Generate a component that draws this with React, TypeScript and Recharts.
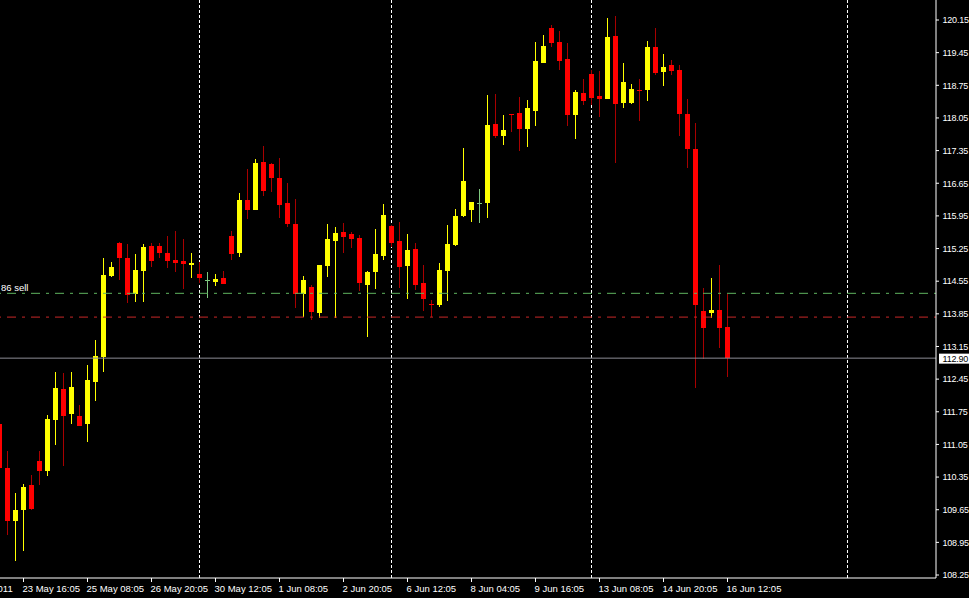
import React from 'react';
import { ComposedChart, Bar, XAxis, YAxis, ReferenceLine, CartesianGrid } from 'recharts';

const START_INDEX = -1;
const OPEN = [111.49, 110.55, 109.41, 109.64, 110.17, 110.69, 110.48, 111.57, 112.24, 111.70, 111.66, 111.49, 112.39, 112.93, 114.66, 115.37, 115.05, 114.27, 114.77, 115.30, 115.30, 115.15, 115.00, 114.98, 114.90, 114.70, 114.57, 114.53, 114.62, 115.52, 115.15, 116.29, 116.08, 117.11, 117.06, 116.76, 116.23, 115.78, 114.28, 114.42, 113.87, 114.88, 115.41, 115.60, 115.56, 115.47, 114.47, 114.75, 115.10, 115.73, 115.41, 114.88, 115.24, 114.51, 114.06, 114.05, 114.77, 115.32, 115.95, 116.08, 116.23, 116.23, 117.92, 117.66, 118.13, 118.16, 117.81, 118.20, 119.23, 119.98, 119.68, 119.31, 118.11, 118.58, 118.99, 118.52, 118.46, 119.81, 118.37, 118.37, 118.64, 118.65, 119.57, 119.04, 119.19, 119.08, 118.13, 117.38, 113.91, 113.87, 113.93, 113.57];
const HIGH = [111.52, 110.91, 110.01, 110.20, 110.39, 110.91, 111.68, 112.60, 112.58, 112.60, 111.90, 112.75, 113.29, 115.05, 114.96, 115.40, 115.35, 115.13, 115.35, 115.37, 115.37, 115.52, 115.63, 115.45, 115.15, 114.96, 114.75, 114.70, 114.77, 115.63, 116.44, 116.96, 117.17, 117.45, 117.08, 117.19, 116.65, 116.31, 114.66, 114.47, 114.90, 115.78, 115.71, 115.80, 115.60, 115.54, 114.77, 115.67, 116.20, 115.76, 115.82, 115.56, 115.37, 114.90, 114.15, 114.94, 115.75, 116.10, 117.41, 116.25, 116.53, 118.54, 118.56, 118.11, 118.14, 118.50, 118.43, 119.68, 119.83, 120.04, 119.91, 119.66, 118.65, 118.88, 119.08, 119.06, 120.19, 120.24, 119.23, 118.78, 118.88, 119.70, 119.98, 119.42, 119.29, 119.19, 118.46, 117.94, 114.40, 114.62, 114.90, 114.27];
const LOW = [110.50, 109.11, 108.54, 108.77, 109.65, 110.18, 110.37, 111.04, 110.59, 111.49, 111.45, 111.11, 111.98, 112.61, 114.65, 114.57, 114.08, 114.11, 114.11, 114.85, 115.05, 114.83, 114.75, 114.38, 114.62, 114.51, 114.20, 114.45, 114.49, 115.00, 115.07, 115.88, 116.08, 116.38, 116.46, 115.90, 115.71, 113.97, 113.79, 113.72, 113.75, 114.65, 113.75, 115.15, 115.26, 114.35, 113.36, 114.39, 115.01, 115.28, 114.41, 114.17, 114.37, 113.92, 113.78, 114.00, 114.13, 115.30, 115.93, 115.82, 115.80, 115.90, 117.62, 117.47, 117.75, 117.34, 117.43, 117.88, 119.23, 119.57, 119.08, 117.88, 117.60, 118.33, 118.33, 118.07, 118.46, 117.08, 118.26, 118.35, 117.98, 118.41, 118.97, 118.74, 118.97, 117.67, 116.98, 112.27, 112.89, 113.77, 113.12, 112.50];
const CLOSE = [110.55, 109.41, 109.64, 110.14, 109.67, 110.48, 111.60, 112.26, 111.66, 112.28, 111.45, 112.43, 112.95, 114.68, 114.85, 115.05, 114.25, 114.79, 115.28, 114.98, 115.15, 114.98, 114.94, 114.92, 114.94, 114.62, 114.57, 114.60, 114.49, 115.13, 116.29, 116.08, 117.08, 116.48, 116.76, 116.18, 115.78, 114.28, 114.57, 113.90, 114.90, 115.45, 115.58, 115.50, 115.45, 114.52, 114.75, 115.13, 115.97, 115.37, 114.86, 115.22, 114.47, 114.17, 114.05, 114.79, 115.35, 115.95, 116.70, 116.25, 116.23, 117.90, 117.66, 117.79, 118.12, 117.81, 118.26, 119.27, 119.59, 119.66, 119.27, 118.11, 118.61, 118.41, 118.48, 118.46, 119.79, 118.35, 118.82, 118.67, 118.63, 119.57, 119.01, 119.14, 119.06, 118.14, 117.39, 114.05, 113.55, 113.93, 113.55, 112.90];

const TIME_TICKS = [-6, 2, 10, 18, 26, 34, 42, 50, 58, 66, 74, 82, 90];
const TIME_LABELS = ['20 May 2011', '23 May 16:05', '25 May 08:05', '26 May 20:05', '30 May 12:05', '1 Jun 08:05', '2 Jun 20:05', '6 Jun 12:05', '8 Jun 04:05', '9 Jun 16:05', '13 Jun 08:05', '14 Jun 20:05', '16 Jun 12:05'];
const PRICE_TICKS = [108.25, 108.95, 109.65, 110.35, 111.05, 111.75, 112.45, 113.15, 113.85, 114.55, 115.25, 115.95, 116.65, 117.35, 118.05, 118.75, 119.45, 120.15];
const GRID_X = [24, 48, 73, 105];
const SELL_LEVEL = 114.29;
const SELL_TEXT = '86 sell';
const STOP_LEVEL = 113.78;
const BID = 112.9;

const data = OPEN.map((o, i) => ({
  idx: START_INDEX + i,
  open: o,
  high: HIGH[i],
  low: LOW[i],
  close: CLOSE[i],
  range: [LOW[i], HIGH[i]],
}));

const X_DOMAIN: [number, number] = [-0.9375, 116.0625];
const FONT = '"Liberation Sans", Arial, sans-serif';
const BULL = '#ffff00';
const BEAR = '#ff0000';
const BEAR_WICK = '#a80000';
const DOJI = '#7fc87f';

const Candle = (props: any) => {
  const { x, y, width, height, payload } = props;
  if (!payload) return null;
  const { open, close, high, low } = payload;
  const top = Math.min(y, y + height);
  const bot = Math.max(y, y + height);
  const span = high - low;
  const ppu = span > 0 ? (bot - top) / span : 0;
  const yOf = (v: number) => top + (high - v) * ppu;
  const cx = x + width / 2;
  let body: string;
  let wick: string;
  if (close > open) {
    body = BULL;
    wick = BULL;
  } else if (close < open) {
    body = BEAR;
    wick = BEAR_WICK;
  } else {
    body = DOJI;
    wick = DOJI;
  }
  const yo = yOf(open);
  const yc = yOf(close);
  const bTop = Math.min(yo, yc);
  const bH = Math.max(1, Math.abs(yo - yc));
  return (
    <g shapeRendering="crispEdges">
      <line x1={cx} x2={cx} y1={top} y2={bot} stroke={wick} strokeWidth={1} />
      <rect x={x} y={bTop} width={width} height={bH} fill={body} />
    </g>
  );
};

const TimeTick = (props: any) => {
  const { x, y, payload } = props;
  const i = TIME_TICKS.indexOf(payload.value);
  return (
    <text x={x - 1} y={y + 8} fill="#ffffff" fontSize={9.5} fontFamily={FONT} textAnchor="start">
      {TIME_LABELS[i]}
    </text>
  );
};

const PriceTick = (props: any) => {
  const { x, y, payload } = props;
  return (
    <text x={x + 1.5} y={y + 3.3} fill="#ffffff" fontSize={9} letterSpacing={-0.2} fontFamily={FONT} textAnchor="start">
      {Number(payload.value).toFixed(2)}
    </text>
  );
};

const BidLabel = (props: any) => {
  const vb = props.viewBox || {};
  const right = (vb.x || 0) + (vb.width || 0);
  const yy = vb.y || 0;
  return (
    <g>
      <rect x={right + 3} y={yy - 4.5} width={40} height={10} fill="#ffffff" />
      <text x={right + 6.5} y={yy + 3.5} fill="#000000" fontSize={9} letterSpacing={-0.2} fontFamily={FONT}>
        {BID.toFixed(2)}
      </text>
    </g>
  );
};

const SellLabel = (props: any) => {
  const vb = props.viewBox || {};
  const yy = vb.y || 0;
  return (
    <text x={1} y={yy - 2.3} fill="#ffffff" fontSize={9.5} fontFamily={FONT}>
      {SELL_TEXT}
    </text>
  );
};

export default function App() {
  return (
    <div style={{ position: 'fixed', left: 0, top: 0, width: 969, height: 598, background: '#000000', overflow: 'hidden' }}>
      <style>{'body{margin:0;background:#000;}'}</style>
      <ComposedChart
        width={969}
        height={598}
        data={data}
        margin={{ top: 0, right: 0, bottom: 0, left: 0 }}
        style={{ background: '#000000' }}
      >
        <XAxis
          dataKey="idx"
          type="number"
          domain={X_DOMAIN}
          allowDataOverflow
          ticks={TIME_TICKS}
          interval={0}
          height={20}
          tickSize={4}
          axisLine={{ stroke: '#ffffff' }}
          tickLine={{ stroke: '#ffffff' }}
          tick={<TimeTick />}
        />
        <XAxis
          xAxisId="grid"
          dataKey="idx"
          type="number"
          domain={X_DOMAIN}
          allowDataOverflow
          ticks={GRID_X}
          interval={0}
          hide
        />
        <YAxis
          orientation="right"
          type="number"
          domain={[108.186, 120.579]}
          allowDataOverflow
          ticks={PRICE_TICKS}
          interval={0}
          width={33}
          tickSize={3}
          axisLine={{ stroke: '#ffffff' }}
          tickLine={{ stroke: '#ffffff' }}
          tick={<PriceTick />}
        />
        <CartesianGrid
          xAxisId="grid"
          horizontal={false}
          vertical
          syncWithTicks
          stroke="#ffffff"
          strokeDasharray="3 2"
        />
        <ReferenceLine y={SELL_LEVEL} stroke="#5fb45f" strokeDasharray="9 6 3 6" strokeDashoffset={16} label={<SellLabel />} />
        <ReferenceLine y={STOP_LEVEL} stroke="#c82828" strokeDasharray="9 6 3 6" strokeDashoffset={16} />
        <ReferenceLine y={BID} stroke="#8c8c96" label={<BidLabel />} />
        <Bar dataKey="range" barSize={5} shape={<Candle />} isAnimationActive={false} />
      </ComposedChart>
    </div>
  );
}
